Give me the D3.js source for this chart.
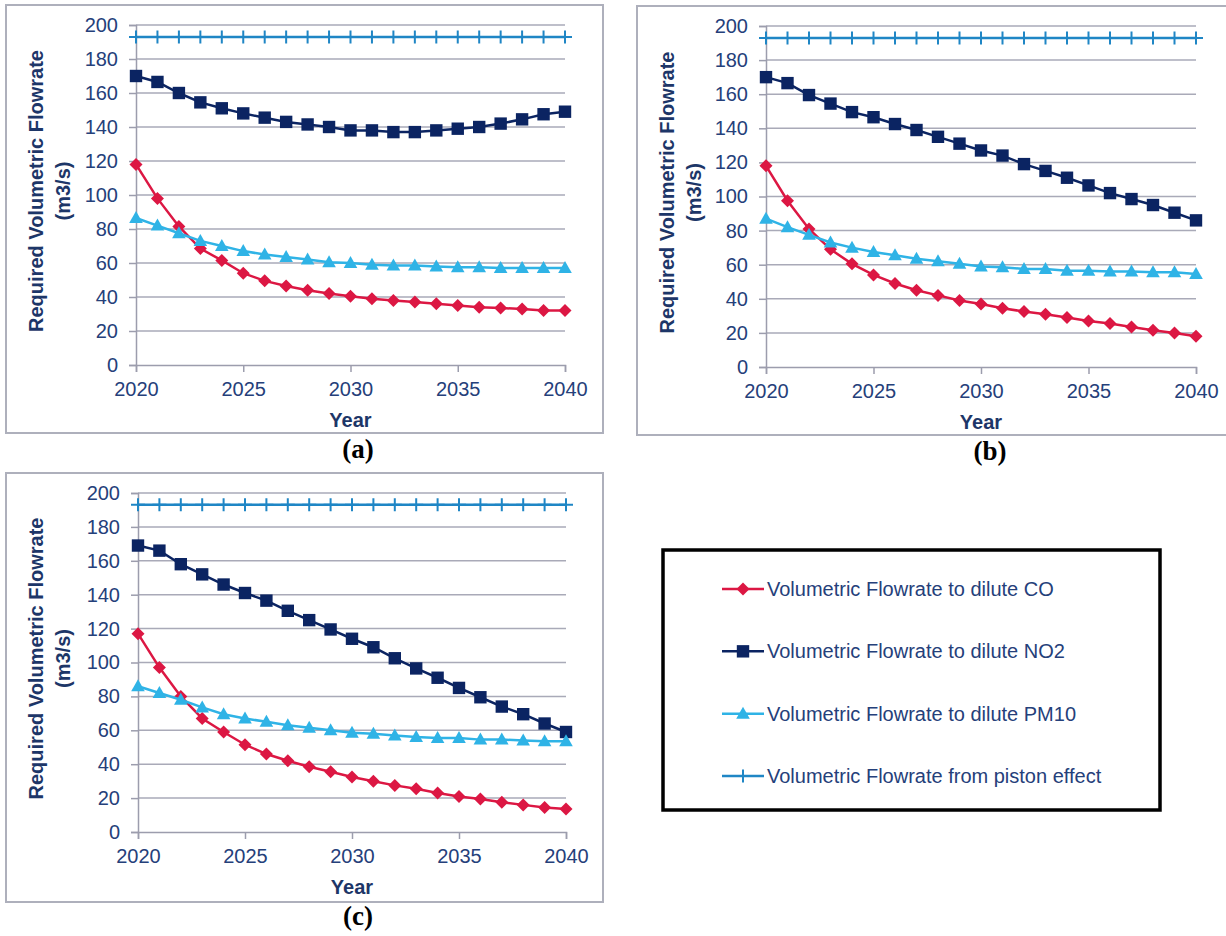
<!DOCTYPE html>
<html><head><meta charset="utf-8">
<script src="https://cdn.jsdelivr.net/npm/d3@7"></script>
<style>
html,body{margin:0;padding:0;background:#fff;}
svg{display:block;font-family:"Liberation Sans",Arial,sans-serif;}
</style></head>
<body>
<svg id="chart" width="1226" height="936"></svg>
<script>
// ---------- data ----------
const years = [2020,2021,2022,2023,2024,2025,2026,2027,2028,2029,2030,2031,2032,2033,2034,2035,2036,2037,2038,2039,2040];
const xTickValues = [2020,2025,2030,2035,2040];
const yTickValues = [0,20,40,60,80,100,120,140,160,180,200];

const seriesNames = [
  "Volumetric Flowrate to dilute CO",
  "Volumetric Flowrate to dilute NO2",
  "Volumetric Flowrate to dilute PM10",
  "Volumetric Flowrate from piston effect"
];

// panel (a)
const coA   = [118,98,81.5,68.5,61.5,54,49.5,46.5,44,42,40.5,39,38,37,36,35,34,33.5,33,32,32];
const no2A  = [170,166.5,160,154.5,151,148,145.5,143,141.5,140,138,138,137,137,138,139,140,142,144.5,147.5,149];
const pm10A = [86.5,82,77.5,73,70,67,65,63.5,62,60.5,60,59,58.5,58.5,58,57.5,57.5,57,57,57,57];
const pistonA = [193,193,193,193,193,193,193,193,193,193,193,193,193,193,193,193,193,193,193,193,193];

// panel (b)
const coB   = [118,97.5,81,69,60.5,54,49,45,42,39,37,34.5,32.5,31,29,27,25.5,23.5,21.5,20,18];
const no2B  = [170,166.5,159.5,154.5,149.5,146.5,142.5,139,135,131,127,124,119,115,111,106.5,102,98.5,95,90.5,86];
const pm10B = [87,82,77.5,73,70,67.5,65.5,63.5,62,60.5,59,58.5,57.5,57.5,56.5,56.5,56,56,55.5,55.5,54.5];
const pistonB = [193,193,193,193,193,193,193,193,193,193,193,193,193,193,193,193,193,193,193,193,193];

// panel (c)
const coC   = [117,97,80,67,59,51.5,46,42,38.5,35.5,32.5,30,27.5,25.5,23,21,19.5,17.5,16,14.5,13.5];
const no2C  = [169,166,158,152,146,141,136.5,130.5,125,119.5,114,109,102.5,96.5,91,85,79.5,74,69.5,64,59];
const pm10C = [86,82,78,73.5,69.5,67,65,63,61.5,60,58.5,58,57,56,55.5,55.5,54.5,54.5,54,53.5,53.5];
const pistonC = [193,193,193,193,193,193,193,193,193,193,193,193,193,193,193,193,193,193,193,193,193];

const panelLabels = ["(a)","(b)","(c)"];

// ---------- styles ----------
const colors = ["#dc1743","#0b2462","#2fb3e6","#1f86c5"];
const markers = ["diamond","square","triangle","plus"];
const tickColor = "#25407a";
const titleColor = "#1d3668";
const gridColor = "#a9aab8";
const axisColor = "#9c9dad";
const borderColor = "#aeb0bc";

const svg = d3.select("#chart");

function markerPath(type){
  switch(type){
    case "diamond": return "M0,-6.5L6.5,0L0,6.5L-6.5,0Z";
    case "square": return "M-6.2,-6.2H6.2V6.2H-6.2Z";
    case "triangle": return "M0,-7L6.8,5L-6.8,5Z";
    case "plus": return "M0,-6.5V6.5M-7,0H7";
  }
}

function drawMarker(g, type, color){
  if(type === "plus"){
    g.append("path").attr("d", markerPath(type)).attr("stroke", color).attr("stroke-width", 2).attr("fill","none");
  } else {
    g.append("path").attr("d", markerPath(type)).attr("fill", color);
  }
}

const panels = [
  {box:[6,5,597,428], plot:{l:136,r:565,t:25,b:365}, label:[358,458], data:[coA,no2A,pm10A,pistonA]},
  {box:[637,6,595,429], plot:{l:766,r:1196,t:26,b:367}, label:[990,460], data:[coB,no2B,pm10B,pistonB]},
  {box:[6,473,597,429], plot:{l:138,r:566,t:493,b:832}, label:[358,925], data:[coC,no2C,pm10C,pistonC]}
];

panels.forEach((p, pi) => {
  const g = svg.append("g");
  g.append("rect").attr("x",p.box[0]).attr("y",p.box[1]).attr("width",p.box[2]).attr("height",p.box[3])
    .attr("fill","#fff").attr("stroke",borderColor).attr("stroke-width",2);

  const x = d3.scaleLinear().domain([2020,2040]).range([p.plot.l,p.plot.r]);
  const y = d3.scaleLinear().domain([0,200]).range([p.plot.b,p.plot.t]);

  // gridlines
  g.append("g").selectAll("line").data(yTickValues.filter(v=>v>0)).join("line")
    .attr("x1",p.plot.l).attr("x2",p.plot.r).attr("y1",d=>y(d)).attr("y2",d=>y(d))
    .attr("stroke",gridColor).attr("stroke-width",1.5);

  // y axis
  const ya = g.append("g").attr("transform",`translate(${p.plot.l},0)`)
    .call(d3.axisLeft(y).tickValues(yTickValues).tickSize(7).tickPadding(11).tickFormat(d3.format("d")));
  ya.select(".domain").attr("stroke",axisColor).attr("stroke-width",1.5);
  ya.selectAll(".tick line").attr("stroke",axisColor).attr("stroke-width",1.5);
  ya.selectAll(".tick text").attr("fill",tickColor).attr("font-size",20).attr("font-family","Liberation Sans, Arial, sans-serif");

  // x axis
  const xa = g.append("g").attr("transform",`translate(0,${p.plot.b})`)
    .call(d3.axisBottom(x).tickValues(xTickValues).tickSize(7).tickPadding(10).tickFormat(d3.format("d")));
  xa.select(".domain").attr("stroke",axisColor).attr("stroke-width",1.5);
  xa.selectAll(".tick line").attr("stroke",axisColor).attr("stroke-width",1.5);
  xa.selectAll(".tick text").attr("fill",tickColor).attr("font-size",20).attr("font-family","Liberation Sans, Arial, sans-serif");

  // axis titles
  const cy = (p.plot.t + p.plot.b)/2 - 4;
  const tx = p.box[0] + 37;
  const yt = g.append("text").attr("transform",`translate(${tx},${cy}) rotate(-90)`)
    .attr("text-anchor","middle").attr("font-weight","bold").attr("font-size",20).attr("fill",titleColor);
  yt.append("tspan").attr("x",0).attr("dy",0).text("Required Volumetric Flowrate");
  yt.append("tspan").attr("x",0).attr("dy",27).text("(m3/s)");

  g.append("text").attr("x",(p.plot.l+p.plot.r)/2).attr("y",p.plot.b+62)
    .attr("text-anchor","middle").attr("font-weight","bold").attr("font-size",20).attr("fill",titleColor).text("Year");

  // series
  const line = d3.line().x((d,i)=>x(years[i])).y(d=>y(d));
  p.data.forEach((vals, si) => {
    g.append("path").datum(vals).attr("d",line).attr("fill","none")
      .attr("stroke",colors[si]).attr("stroke-width",2.5);
    const mg = g.append("g");
    vals.forEach((v,i) => {
      const m = mg.append("g").attr("transform",`translate(${x(years[i])},${y(v)})`);
      drawMarker(m, markers[si], colors[si]);
    });
  });

  // panel label
  svg.append("text").attr("x",p.label[0]).attr("y",p.label[1]).attr("text-anchor","middle")
    .attr("font-family","Liberation Serif, Times New Roman, serif").attr("font-weight","bold")
    .attr("font-size",27).attr("fill","#000").text(panelLabels[pi]);
});

// ---------- legend ----------
const lg = svg.append("g");
lg.append("rect").attr("x",663).attr("y",550).attr("width",497).attr("height",260)
  .attr("fill","#fff").attr("stroke","#000").attr("stroke-width",3.5);
const legendY = d3.scalePoint().domain(seriesNames).range([589,776]);
seriesNames.forEach((name, si) => {
  const yy = legendY(name);
  lg.append("line").attr("x1",722).attr("x2",764).attr("y1",yy).attr("y2",yy)
    .attr("stroke",colors[si]).attr("stroke-width",2.5);
  const m = lg.append("g").attr("transform",`translate(743,${yy})`);
  drawMarker(m, markers[si], colors[si]);
  lg.append("text").attr("x",767).attr("y",yy).attr("dy","0.35em")
    .attr("font-size",20).attr("fill",tickColor).text(name);
});
</script>
</body></html>
